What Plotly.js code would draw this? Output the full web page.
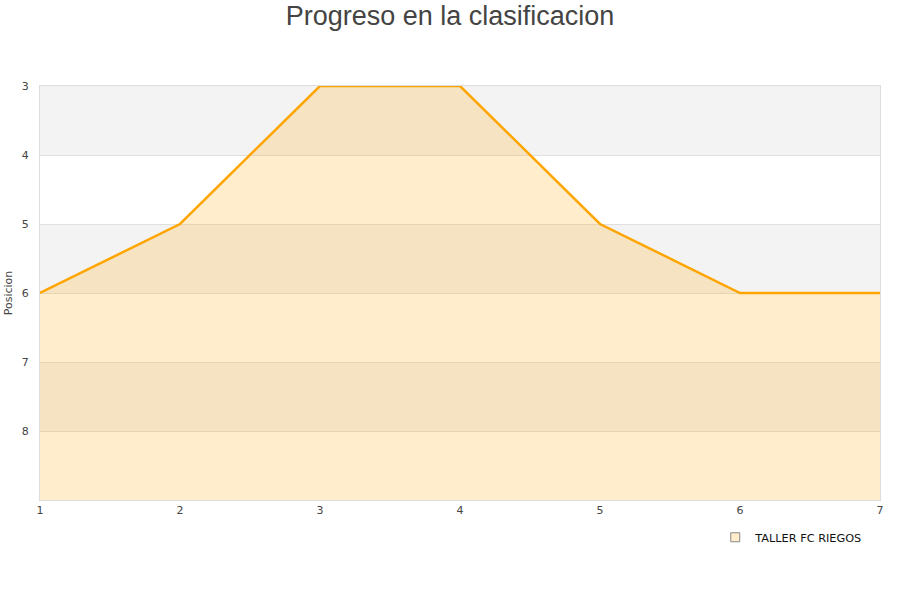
<!DOCTYPE html>
<html><head><meta charset="utf-8">
<script src="https://cdn.plot.ly/plotly-3.0.1.min.js"></script>
<style>body{margin:0;}#c{width:900px;height:600px;}</style>
</head><body><div id="c"></div>
<script>
const jornadas = [1, 2, 3, 4, 5, 6, 7];
const posiciones = [6, 5, 3, 3, 5, 6, 6];
const equipo = "TALLER FC RIEGOS";
const yTicks = [3, 4, 5, 6, 7, 8];
const yMin = 3, yMax = 9;

const bands = [];
for (let v = yMin; v < yMax; v += 2) {
  bands.push({type:'rect', xref:'paper', yref:'y', x0:0, x1:1, y0:v, y1:v+1,
    fillcolor:'#f3f3f3', line:{width:0}, layer:'below'});
}

const traces = [
  {x: jornadas, y: jornadas.map(()=>yMax), mode:'lines', line:{width:0},
   showlegend:false, hoverinfo:'skip'},
  {x: jornadas, y: posiciones, mode:'lines', fill:'tonexty',
   fillcolor:'rgba(255,165,0,0.2)', line:{color:'#FFA500', width:2.5},
   name: equipo, showlegend:false, cliponaxis:false},
  {x:[null], y:[null], mode:'markers', name: equipo,
   marker:{symbol:'square', size:9, color:'#FFEDCC', line:{color:'#888', width:1}}}
];

const layout = {
  width:900, height:600,
  margin:{l:40, r:20, t:86, b:100},
  paper_bgcolor:'#fff', plot_bgcolor:'rgba(0,0,0,0)',
  title:{text:'Progreso en la clasificacion', x:0.5, xanchor:'center', y:0.99, yanchor:'top',
    font:{family:'Liberation Sans, Arial, sans-serif', size:27, color:'#444'}},
  font:{family:'DejaVu Sans, sans-serif', size:11, color:'#444'},
  shapes: bands,
  xaxis:{range:[1,7], tickvals:jornadas, showgrid:false, zeroline:false,
    showline:true, mirror:true, linecolor:'#dddddd', linewidth:1, ticks:'',
    tickfont:{size:11, color:'#444'}},
  yaxis:{range:[yMax,yMin], tickvals:yTicks, showgrid:true, gridcolor:'#e0e0e0',
    zeroline:false, showline:true, mirror:true, linecolor:'#dddddd', ticks:'',
    ticklabelstandoff:8,
    tickfont:{size:11, color:'#444'},
    title:{text:'Posicion', font:{size:11, color:'#444'}, standoff:6}},
  showlegend:true,
  legend:{x:0.986, xanchor:'right', y:-0.055, yanchor:'top', orientation:'h',
    font:{size:11.3, color:'#111'}, bgcolor:'rgba(0,0,0,0)'}
};
Plotly.newPlot('c', traces, layout, {displayModeBar:false, staticPlot:true});
</script></body></html>
